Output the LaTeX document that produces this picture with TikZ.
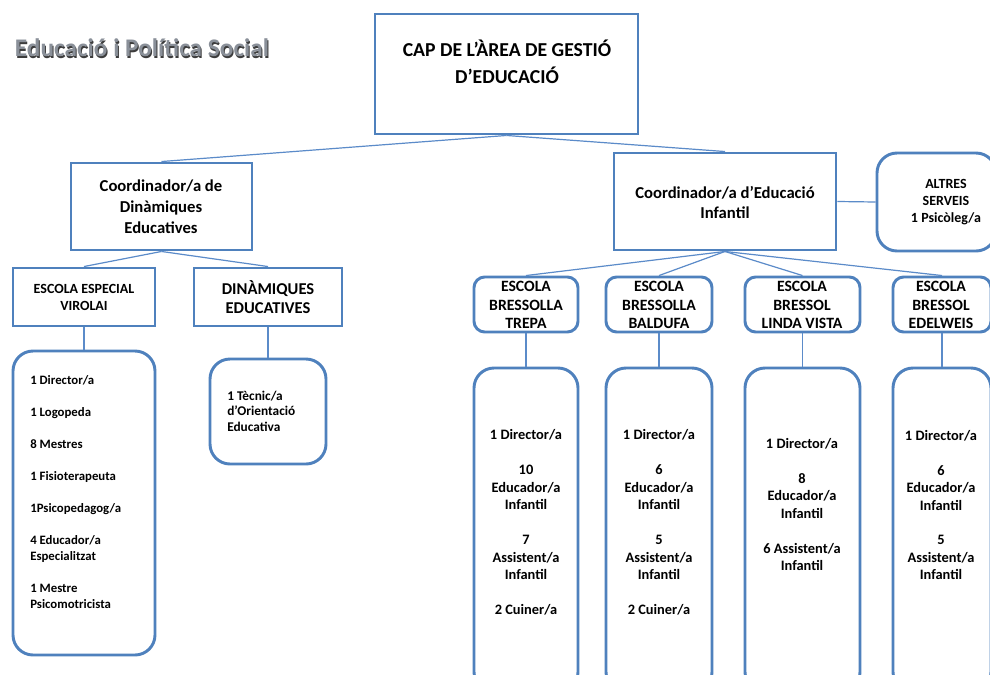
\documentclass[tikz,border=0pt]{standalone}
\usepackage{fontspec}
\setmainfont{Carlito}
\usetikzlibrary{calc}
\definecolor{boxblue}{HTML}{4F81BD}
\definecolor{lineblue}{HTML}{5B8BC9}
\definecolor{titlegray}{HTML}{8A9099}
\definecolor{shadowgray}{HTML}{3C3C3C}
\newcommand\pbox[6]{\node[#6, minimum width={(#4-#2)*0.75pt}, minimum height={(#5-#3)*0.75pt}] (#1) at ({(#2+#4)/2},{(#3+#5)/2}) {};}
\tikzset{
  sqbox/.style={draw=boxblue, line width=2.2pt, fill=white, inner sep=0pt, rectangle},
  rbox/.style={sqbox, rounded corners=8pt},
  bigrbox/.style={sqbox, rounded corners=15pt},
  conn/.style={draw=lineblue, line width=0.9pt},
  txt/.style={font=\bfseries, align=center, inner sep=0pt, text=black},
}
\begin{document}
\begin{tikzpicture}[x=0.75pt, y=-0.75pt]
\clip (0,0) rectangle (990,675);
\fill[white] (0,0) rectangle (990,675);
% boxes
\pbox{cap}{375}{14}{638}{134}{sqbox}
\pbox{cde}{71}{163}{252}{250}{sqbox}
\pbox{cei}{614}{153}{836}{250}{sqbox}
\pbox{alt}{877}{153}{996}{251}{bigrbox}
\pbox{virh}{13}{268}{155}{326}{sqbox}
\pbox{dinh}{194}{268}{342}{326}{sqbox}
\pbox{virs}{13}{351}{155}{655}{bigrbox}
\pbox{tecs}{210}{359}{326}{464}{bigrbox}
\pbox{treh}{474}{277}{578}{332}{rbox}
\pbox{tres}{474}{368}{578}{692}{bigrbox}
\pbox{balh}{606}{277}{712}{332}{rbox}
\pbox{bals}{606}{368}{712}{692}{bigrbox}
\pbox{linh}{745}{277}{860}{332}{rbox}
\pbox{lins}{745}{368}{860}{692}{bigrbox}
\pbox{edeh}{893}{277}{991}{332}{rbox}
\pbox{edes}{893}{368}{991}{692}{bigrbox}
% connectors
\draw[conn] (cap.south) -- (cde.north);
\draw[conn] (cap.south) -- (cei.north);
\draw[conn] (cde.south) -- (virh.north);
\draw[conn] (cde.south) -- (dinh.north);
\draw[conn] (virh.south) -- (virs.north);
\draw[conn] (dinh.south) -- (tecs.north);
\draw[conn] (cei.east) -- (alt.west);
\draw[conn] (cei.south) -- (treh.north);
\draw[conn] (cei.south) -- (balh.north);
\draw[conn] (cei.south) -- (linh.north);
\draw[conn] (cei.south) -- (edeh.north);
\draw[conn] (treh.south) -- (tres.north);
\draw[conn] (balh.south) -- (bals.north);
\draw[conn] (linh.south) -- (lins.north);
\draw[conn] (edeh.south) -- (edes.north);
% title
\node[txt, text=shadowgray, font=\fontsize{19}{22}\selectfont\bfseries] (titleshadow) at (143,49.2) {Educació i Política Social};
\node[txt, text=titlegray, font=\fontsize{19}{22}\selectfont\bfseries] (title) at (142,48) {Educació i Política Social};
% texts
\node[txt, font=\fontsize{14.8}{20}\selectfont\bfseries] (capt) at (507,62) {CAP DE L’ÀREA DE GESTIÓ\\D’EDUCACIÓ};
\node[txt, font=\fontsize{12.5}{15.75}\selectfont\bfseries] (cdet) at (161,207) {Coordinador/a de\\Dinàmiques\\Educatives};
\node[txt, font=\fontsize{12.5}{15}\selectfont\bfseries] (ceit) at (725,202) {Coordinador/a d’Educació\\Infantil};
\node[txt, font=\fontsize{10.5}{12.75}\selectfont\bfseries] (altt) at (946,202) {ALTRES\\SERVEIS\\1 Psicòleg/a};
\node[txt, font=\fontsize{10.5}{12.75}\selectfont\bfseries] (virht) at (84,297) {ESCOLA ESPECIAL\\VIROLAI};
\node[txt, font=\fontsize{12.4}{14}\selectfont\bfseries] (dinht) at (268,297) {DINÀMIQUES\\EDUCATIVES};
\node[txt, font=\fontsize{11.8}{14}\selectfont\bfseries] (treht) at (526,305) {ESCOLA\\BRESSOLLA\\TREPA};
\node[txt, font=\fontsize{11.8}{14}\selectfont\bfseries] (balht) at (659,305) {ESCOLA\\BRESSOLLA\\BALDUFA};
\node[txt, font=\fontsize{11.8}{14}\selectfont\bfseries] (linht) at (802,305) {ESCOLA\\BRESSOL\\LINDA VISTA};
\node[txt, font=\fontsize{11.8}{14}\selectfont\bfseries] (edeht) at (941,305) {ESCOLA\\BRESSOL\\EDELWEIS};
\node[txt, align=left, anchor=west, font=\fontsize{9.6}{12}\selectfont\bfseries] (virst) at (30,492) {1 Director/a\\[12pt]1 Logopeda\\[12pt]8 Mestres\\[12pt]1 Fisioterapeuta\\[12pt]1Psicopedagog/a\\[12pt]4 Educador/a\\Especialitzat\\[12pt]1 Mestre\\Psicomotricista};
\node[txt, align=left, anchor=west, font=\fontsize{10}{11.6}\selectfont\bfseries] (tecst) at (227,411) {1 Tècnic/a\\d’Orientació\\Educativa};
\node[txt, font=\fontsize{10.8}{13.1}\selectfont\bfseries] (trest) at (526,522.5) {1 Director/a\\[13.1pt]10\\Educador/a\\Infantil\\[13.1pt]7\\Assistent/a\\Infantil\\[13.1pt]2 Cuiner/a};
\node[txt, font=\fontsize{10.8}{13.1}\selectfont\bfseries] (balst) at (659,522.5) {1 Director/a\\[13.1pt]6\\Educador/a\\Infantil\\[13.1pt]5\\Assistent/a\\Infantil\\[13.1pt]2 Cuiner/a};
\node[txt, font=\fontsize{10.8}{13.1}\selectfont\bfseries] (linst) at (802,504.5) {1 Director/a\\[13.1pt]8\\Educador/a\\Infantil\\[13.1pt]6 Assistent/a\\Infantil};
\node[txt, font=\fontsize{10.8}{13.1}\selectfont\bfseries] (edest) at (941,505) {1 Director/a\\[13.1pt]6\\Educador/a\\Infantil\\[13.1pt]5\\Assistent/a\\Infantil};
\end{tikzpicture}
\end{document}
